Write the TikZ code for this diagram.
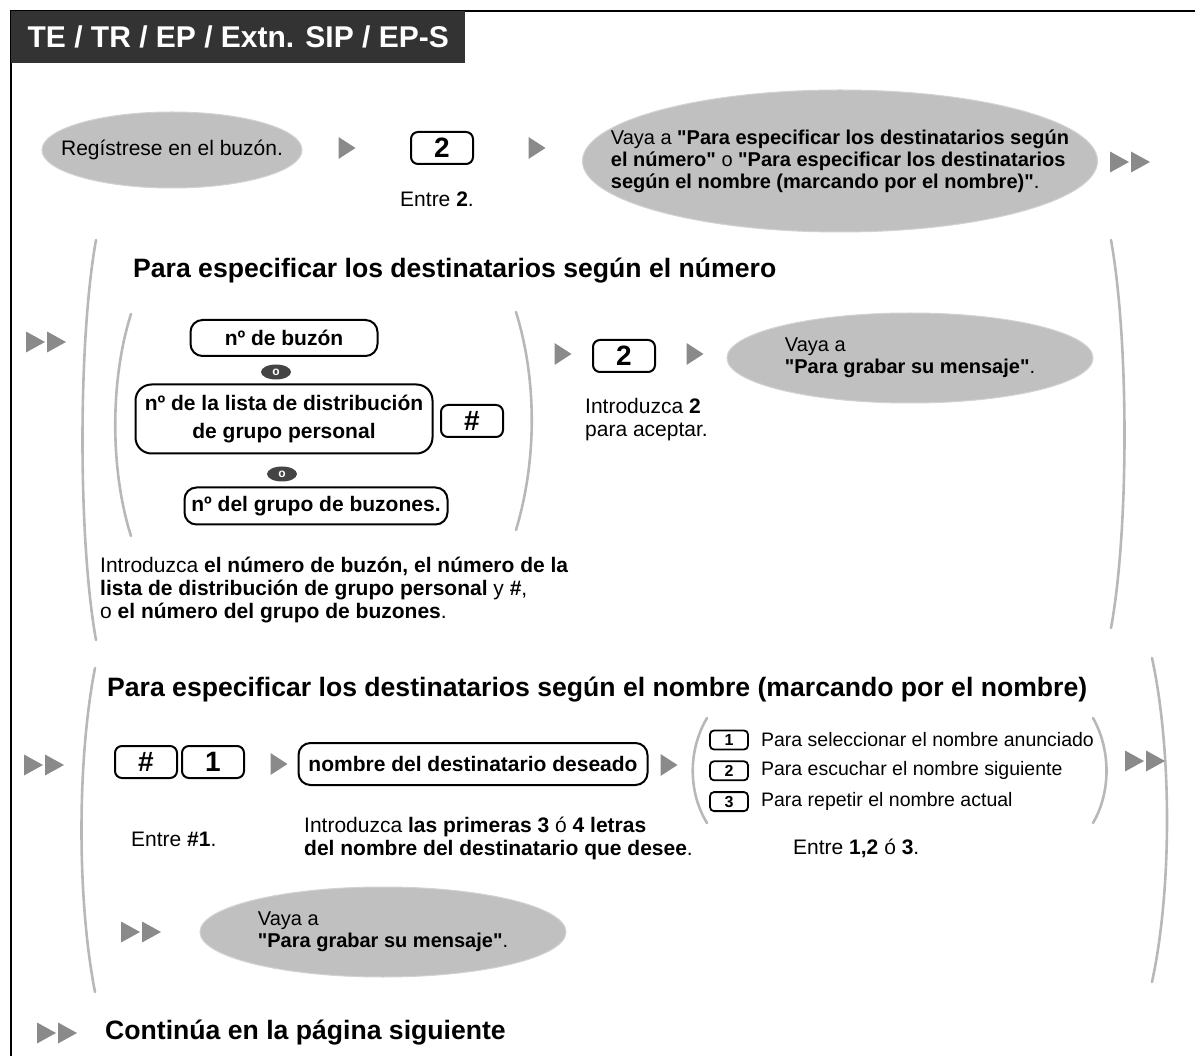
\documentclass[tikz,border=0pt]{standalone}
\usepackage{fontspec}
\setmainfont{Liberation Sans}
\usetikzlibrary{positioning,shapes.geometric}
\definecolor{mygray}{RGB}{192,192,192}
\definecolor{myedge}{RGB}{210,210,210}
\definecolor{mytri}{RGB}{138,138,138}
\definecolor{mybar}{RGB}{51,51,51}
\definecolor{mybrk}{RGB}{184,184,184}
\definecolor{myor}{RGB}{68,68,68}
\newcommand{\qt}{\textquotedbl}
\tikzset{
  pics/tri/.style={code={\fill[mytri] (-8.5,-11) -- (8.5,0) -- (-8.5,11) -- cycle;}},
  pics/dtri/.style={code={\fill[mytri] (-20,-10.5) -- (-1,0) -- (-20,10.5) -- cycle;
                          \fill[mytri] (1,-10.5) -- (20,0) -- (1,10.5) -- cycle;}}}

\begin{document}
\begin{tikzpicture}[x=1pt,y=-1pt,
  goal/.style={ellipse,fill=mygray,draw=myedge,line width=1pt,inner xsep=-250pt,inner ysep=-50pt,
               align=left,font=\fontsize{20}{22}\selectfont},
  keybox/.style={rectangle,rounded corners=7pt,draw,line width=2pt,inner sep=0pt,
                 minimum width=62pt,minimum height=32pt,font=\fontsize{28}{30}\selectfont\bfseries},
  entry/.style={rectangle,rounded corners=12pt,draw,line width=2pt,inner sep=0pt,
                align=center,font=\fontsize{21}{28}\selectfont\bfseries},
  minikey/.style={rectangle,rounded corners=4pt,draw,line width=1.8pt,inner sep=0pt,
                  minimum width=38pt,minimum height=19pt,font=\fontsize{16}{16}\selectfont\bfseries},
  orsign/.style={ellipse,fill=myor,text=white,inner sep=0pt,minimum width=30pt,
                 minimum height=15pt,font=\fontsize{12}{12}\selectfont\bfseries},
  note/.style={inner sep=0pt,align=left,font=\fontsize{21}{23}\selectfont},
  item/.style={inner sep=0pt,font=\fontsize{19.5}{22}\selectfont},
  head/.style={inner sep=0pt,font=\fontsize{26.6}{30}\selectfont\bfseries},
  brk/.style={draw=mybrk,line width=2.6pt,line cap=round}]
\useasboundingbox (0,0) rectangle (1195,1056);
\draw[line width=1.6pt] (11,1056) -- (11,11) -- (1195,11);
\node[fill=mybar,text=white,anchor=north west,minimum width=454pt,minimum height=52pt,
      font=\fontsize{30}{32}\selectfont\bfseries] (title) at (11,11) {TE / TR / EP / Extn. SIP / EP-S};

\node[goal,minimum width=260pt,minimum height=76pt,font=\fontsize{21}{23}\selectfont] (login) at (172,150) {Regístrese en el buzón.};
\pic at (347,148) {tri};
\node[keybox] (k2) at (442,148) {2};
\node[note,anchor=base] (k2note) at (437,207) {Entre \textbf{2}.};
\pic at (537,148) {tri};
\node[goal,minimum width=515pt,minimum height=142pt] (goto) at (840,161) {%
  Vaya a \textbf{\qt Para especificar los destinatarios según}\\
  \textbf{el número\qt} o \textbf{\qt Para especificar los destinatarios}\\
  \textbf{según el nombre (marcando por el nombre)\qt}.};
\pic at (1130,162) {dtri};

\draw[brk] (96,240) .. controls (78,340) and (78,540) .. (96,640);
\draw[brk] (1111,240) .. controls (1129,340) and (1129,530) .. (1111,628);
\node[head,anchor=west] (h1) at (133,271) {Para especificar los destinatarios según el número};
\pic at (46,342) {dtri};
\draw[brk] (131,314) .. controls (110,380) and (110,470) .. (131,536);
\draw[brk] (516,312) .. controls (537,380) and (537,460) .. (516,530);
\node[entry,minimum width=187pt,minimum height=36pt] (mbox) at (284,338) {nº de buzón};
\node[orsign] (or1) at (276,372) {o};
\node[entry,minimum width=297pt,minimum height=69pt,rounded corners=16pt] (plist) at (284,419)
  {nº de la lista de distribución\\de grupo personal};
\node[keybox] (khash) at (472,421) {\#};
\node[orsign] (or2) at (282,474) {o};
\node[entry,minimum width=263pt,minimum height=37pt] (gbox) at (316,506) {nº del grupo de buzones.};
\node[note,anchor=base west] (mnote) at (100,618) {%
  Introduzca \textbf{el número de buzón, el número de la}\\
  \textbf{lista de distribución de grupo personal} y \textbf{\#},\\
  o \textbf{el número del grupo de buzones}.};
\pic at (563,354) {tri};
\node[keybox] (kok) at (624,356) {2};
\pic at (695,354) {tri};
\node[goal,minimum width=366pt,minimum height=90pt] (rec1) at (910,358) {Vaya a\\\textbf{\qt Para grabar su mensaje\qt}.};
\node[note,anchor=base west] (oknote) at (585,437) {Introduzca \textbf{2}\\para aceptar.};

\draw[brk] (95,668) .. controls (77,760) and (77,900) .. (95,992);
\draw[brk] (1152,658) .. controls (1172,750) and (1172,890) .. (1152,982);
\node[head,anchor=west] (h2) at (107,690) {Para especificar los destinatarios según el nombre (marcando por el nombre)};
\pic at (44,765) {dtri};
\node[keybox] (kh) at (146,762) {\#};
\node[keybox,right=3pt of kh] (k1) {1};
\pic at (279,764) {tri};
\node[entry,minimum width=349pt,minimum height=42pt] (namebox) at (473,764) {nombre del destinatario deseado};
\pic at (669,765) {tri};
\draw[brk] (707,718) .. controls (688,750) and (688,792) .. (707,823);
\draw[brk] (1093,718) .. controls (1111,750) and (1111,792) .. (1093,823);
\node[minikey] (m1) at (729,740) {1};
\node[minikey,below=10pt of m1] (m2) {2};
\node[minikey,below=10pt of m2] (m3) {3};
\node[item,right=12pt of m1] (m1t) {Para seleccionar el nombre anunciado};
\node[item,right=12pt of m2] (m2t) {Para escuchar el nombre siguiente};
\node[item,right=12pt of m3] (m3t) {Para repetir el nombre actual};
\pic at (1145,761) {dtri};
\node[note,anchor=base west] (hnote) at (131,846) {Entre \textbf{\#1}.};
\node[note,anchor=base west] (nnote) at (304,855) {Introduzca \textbf{las primeras 3} ó \textbf{4 letras}\\
  \textbf{del nombre del destinatario que desee}.};
\node[note,anchor=base west] (snote) at (793,854) {Entre \textbf{1,2} ó \textbf{3}.};
\pic at (141,932) {dtri};
\node[goal,minimum width=366pt,minimum height=90pt] (rec2) at (383,932) {Vaya a\\\textbf{\qt Para grabar su mensaje\qt}.};

\pic at (57,1033) {dtri};
\node[head,anchor=west] (cont) at (105,1033) {Continúa en la página siguiente};
\end{tikzpicture}
\end{document}
